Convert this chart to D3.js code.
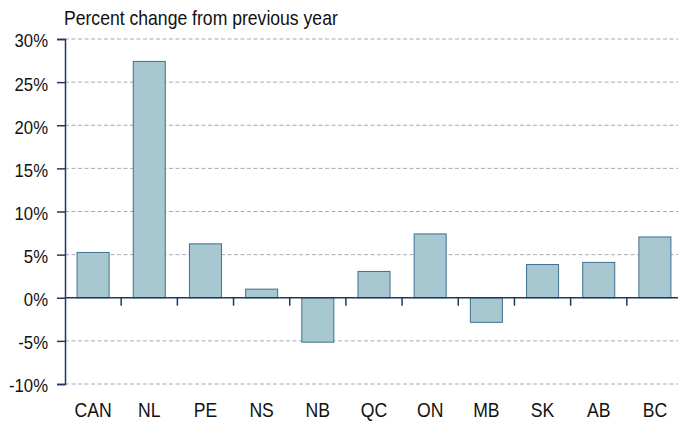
<!DOCTYPE html>
<html>
<head>
<meta charset="utf-8">
<script src="https://cdn.jsdelivr.net/npm/d3@7"></script>
<style>
  body { margin: 0; background: #fff; }
  text { font-family: "Liberation Sans", Arial, sans-serif; fill: #111; }
</style>
</head>
<body>
<svg id="chart" width="678" height="422"></svg>
<script>
const categories = ["CAN", "NL", "PE", "NS", "NB", "QC", "ON", "MB", "SK", "AB", "BC"];
const values = [5.25, 27.4, 6.25, 1.0, -5.15, 3.05, 7.4, -2.85, 3.85, 4.1, 7.05];
const yTicks = [-10, -5, 0, 5, 10, 15, 20, 25, 30];
const title = "Percent change from previous year";

(function () {
const svg = d3.select("#chart");
const mLeft = 65, mRight = 683, mTop = 39, mBottom = 384;
const axisColor = "#1d3a5e";
const sx = 0.88; // horizontal condensation to mimic a narrow face

const x = d3.scaleBand().domain(categories).range([mLeft, mRight]).paddingInner(0.43).paddingOuter(0.215);
const y = d3.scaleLinear().domain([-10, 30]).range([mBottom, mTop]);

// gridlines
svg.append("g").selectAll("line").data(yTicks.filter(d => d !== 0)).join("line")
  .attr("x1", mLeft).attr("x2", 678)
  .attr("y1", d => y(d)).attr("y2", d => y(d))
  .attr("stroke", "#a8a8b8").attr("stroke-width", 1).attr("stroke-dasharray", "4,2.5");

// bars
svg.append("g").selectAll("rect").data(categories.map((c, i) => ({c, v: values[i]}))).join("rect")
  .attr("x", d => x(d.c))
  .attr("width", x.bandwidth())
  .attr("y", d => y(Math.max(0, d.v)))
  .attr("height", d => Math.abs(y(d.v) - y(0)))
  .attr("fill", "#a7c8d0")
  .attr("stroke", "#3f6f91").attr("stroke-width", 1);

// y axis
const yAxis = d3.axisLeft(y).tickValues(yTicks).tickFormat(d => d + "%").tickSize(8);
const gy = svg.append("g").attr("transform", `translate(${mLeft},0)`).call(yAxis);
gy.select(".domain").attr("stroke", axisColor).attr("stroke-width", 1.5);
gy.selectAll(".tick line").attr("stroke", axisColor).attr("stroke-width", 1.5);
gy.selectAll(".tick text")
  .attr("font-size", 19).attr("fill", "#111")
  .attr("font-family", "'Liberation Sans', Arial, sans-serif")
  .attr("x", -17 / sx).attr("dy", "0.42em")
  .attr("transform", `scale(${sx},1)`);

// zero axis line
svg.append("line").attr("x1", mLeft).attr("x2", 678).attr("y1", y(0)).attr("y2", y(0))
  .attr("stroke", axisColor).attr("stroke-width", 1.5);

// category boundary ticks
const step = x.step();
const bounds = categories.slice(1).map(c => x(c) - (step - x.bandwidth()) / 2);
svg.append("g").selectAll("line").data(bounds).join("line")
  .attr("x1", d => d).attr("x2", d => d)
  .attr("y1", y(0)).attr("y2", y(0) + 8)
  .attr("stroke", axisColor).attr("stroke-width", 1.5);

// category labels
svg.append("g").selectAll("text").data(categories).join("text")
  .attr("transform", d => `translate(${x(d) + x.bandwidth() / 2},417) scale(${sx},1)`)
  .attr("text-anchor", "middle")
  .attr("font-size", 20)
  .text(d => d);

// title
svg.append("text")
  .attr("transform", `translate(64,25) scale(${sx},1)`)
  .attr("font-size", 20).text(title);
})();
</script>
</body>
</html>
